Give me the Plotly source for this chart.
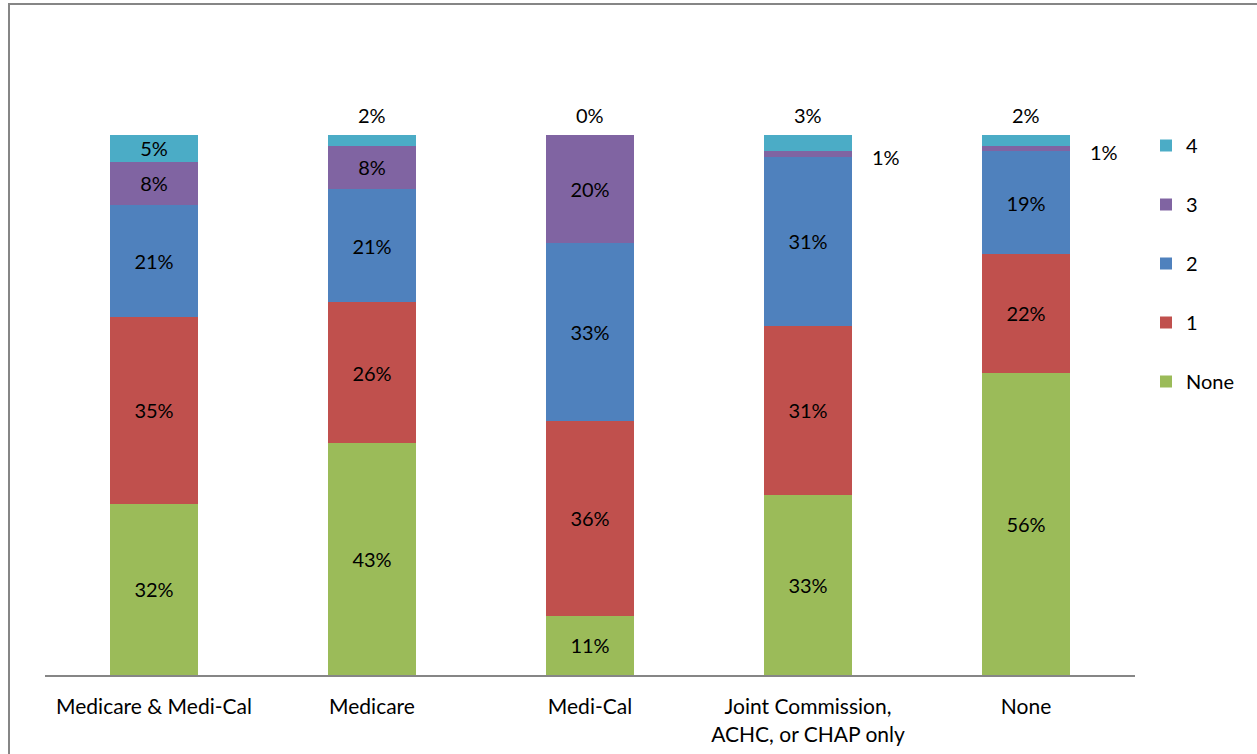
import plotly.graph_objects as go

categories = ["Medicare & Medi-Cal", "Medicare", "Medi-Cal", "Joint Commission,<br>ACHC, or CHAP only", "None"]
series_names = ["None", "1", "2", "3", "4"]
v_none = [32, 43, 11, 33, 56]
v_1 = [35, 26, 36, 31, 22]
v_2 = [21, 21, 33, 31, 19]
v_3 = [8, 8, 20, 1, 1]
v_4 = [5, 2, 0, 3, 2]
colors = ["#9BBB59", "#C0504D", "#4F81BD", "#8064A2", "#4BACC6"]

values = [v_none, v_1, v_2, v_3, v_4]
FONT = "Lato"
FS = 20
FX = 21
SMALL = 4

fig = go.Figure()
for idx, (name, vals, col) in enumerate(zip(series_names, values, colors)):
    texts = [f"{v}%" if v >= SMALL else "" for v in vals]
    fig.add_trace(go.Bar(
        x=categories, y=vals, name=name, marker=dict(color=col, line=dict(width=0)),
        text=texts, textposition="inside", insidetextanchor="middle", textangle=0,
        constraintext="none",
        textfont=dict(family=FONT, size=FS, color="black"),
        legendgroup=name, legendrank=len(series_names) - idx, hoverinfo="skip",
    ))

totals = [sum(vs) for vs in zip(*values)]
annotations = []
for ci, cat in enumerate(categories):
    tot = totals[ci]
    cum = 0.0
    for si, name in enumerate(series_names):
        v = values[si][ci]
        lo = cum / tot * 100
        cum += v
        hi = cum / tot * 100
        if v < SMALL:
            if name == "4":
                annotations.append(dict(x=cat, y=100, xref="x", yref="y", text=f"{v}%",
                                        showarrow=False, yanchor="bottom", yshift=6,
                                        font=dict(family=FONT, size=FS, color="black")))
            else:
                annotations.append(dict(x=cat, y=(lo + hi) / 2, xref="x", yref="y", text=f"{v}%",
                                        showarrow=False, xanchor="left", xshift=62, yshift=-3,
                                        font=dict(family=FONT, size=FS, color="black")))

W, H = 1257, 754
L, R, T, B = 45, 1135, 135, 675
pw, ph = R - L, B - T
def px(x):
    return (x - L) / pw
def py(y):
    return (B - y) / ph

fig.update_layout(
    width=W, height=H,
    margin=dict(l=L, r=W - R, t=T, b=H - B, pad=0, autoexpand=False),
    barmode="stack", barnorm="percent", bargap=0.6,
    plot_bgcolor="white", paper_bgcolor="white",
    font=dict(family=FONT, size=FS, color="black"),
    showlegend=True,
    legend=dict(traceorder="grouped", tracegroupgap=30, x=px(1146), xanchor="left",
                y=py(126), yanchor="top", font=dict(family=FONT, size=FS, color="black"),
                bgcolor="rgba(0,0,0,0)", itemclick=False),
    annotations=annotations,
    shapes=[dict(type="rect", xref="paper", yref="paper", x0=px(9), x1=px(1265), y0=py(770), y1=py(4),
                 line=dict(color="#868686", width=2), fillcolor="rgba(0,0,0,0)", layer="below")],
)
fig.update_xaxes(showline=True, linecolor="#868686", linewidth=2, ticks="", showgrid=False,
                 automargin=False,
                 tickfont=dict(family=FONT, size=FX, color="black"), ticklabelstandoff=12)
fig.update_yaxes(range=[0, 100], visible=False, showgrid=False, automargin=False)

fig.write_html("out.html")
